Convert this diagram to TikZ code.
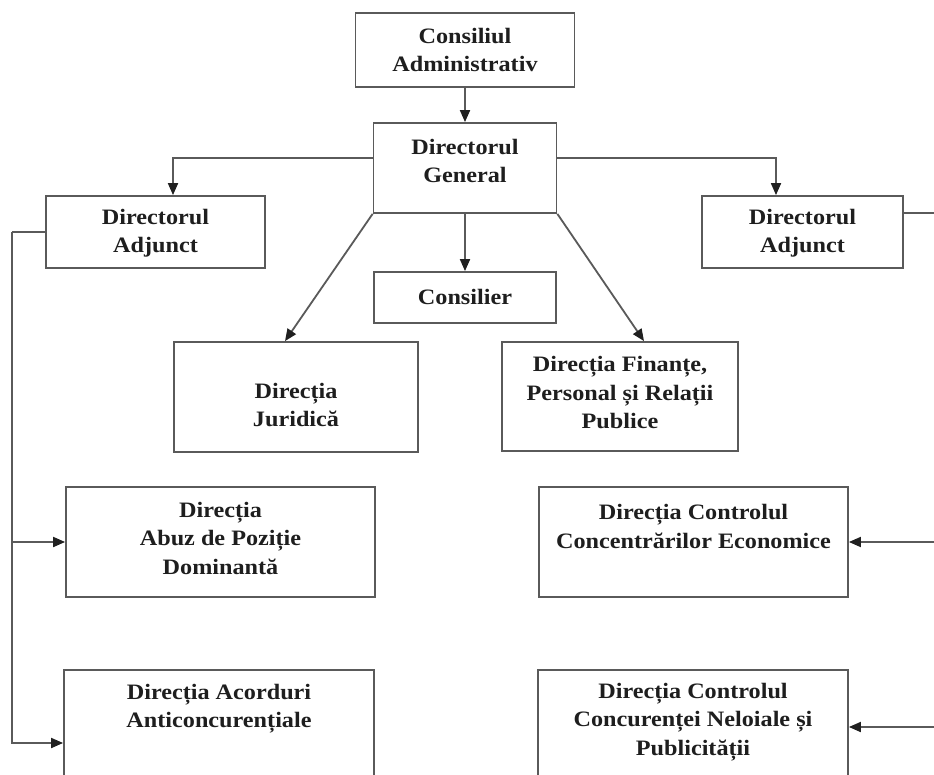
\documentclass[tikz,border=0pt]{standalone}
\usepackage{fontspec}
\setmainfont{Liberation Serif}
\usetikzlibrary{arrows.meta}
\definecolor{ln}{HTML}{5A5A5A}
\definecolor{tx}{HTML}{1E1E1E}
\definecolor{tip}{HTML}{202020}
\tikzset{
  box/.style={draw=ln, line width=1.8pt, fill=white, inner sep=0pt},
  lbl/.style={text=tx, font=\bfseries\fontsize{22}{28.5}\selectfont\addfontfeature{FakeStretch=1.1}, align=center, inner sep=0pt},
  conn/.style={draw=ln, line width=1.8pt},
  arr/.style={conn, -{Triangle[length=12pt,width=10pt,color=tip]}}
}
\begin{document}
\begin{tikzpicture}[x=1pt,y=-1pt]
\clip (0,0) rectangle (934,775);
\fill[white] (0,0) rectangle (934,775);
% boxes
\node[box, minimum width=219pt, minimum height=74pt] (ca) at (465,50) {};
\node[box, minimum width=183pt, minimum height=90pt] (dg) at (465,168) {};
\node[box, minimum width=219pt, minimum height=72pt] (da1) at (155.5,232) {};
\node[box, minimum width=201pt, minimum height=72pt] (da2) at (802.5,232) {};
\node[box, minimum width=182pt, minimum height=51pt] (cons) at (465,297.5) {};
\node[box, minimum width=244pt, minimum height=110pt] (dj) at (296,397) {};
\node[box, minimum width=236pt, minimum height=109pt] (df) at (620,396.5) {};
\node[box, minimum width=309pt, minimum height=110pt] (abuz) at (220.5,542) {};
\node[box, minimum width=309pt, minimum height=110pt] (conc) at (693.5,542) {};
\node[box, minimum width=310pt, minimum height=146pt] (acord) at (219,743) {};
\node[box, minimum width=310pt, minimum height=146pt] (neloial) at (693,743) {};
% texts
\node[lbl] (tca) at (465,50) {Consiliul\\Administrativ};
\node[lbl] (tdg) at (465,161) {Directorul\\General};
\node[lbl] (tda1) at (155.5,233) {Directorul\\Adjunct};
\node[lbl] (tda2) at (802.5,233) {Directorul\\Adjunct};
\node[lbl] (tcons) at (465,297) {Consilier};
\node[lbl] (tdj) at (296,405) {Direcția\\Juridică};
\node[lbl] (tdf) at (620,393) {Direcția Finanțe,\\Personal și Relații\\Publice};
\node[lbl] (tabuz) at (220.5,538) {Direcția\\Abuz de Poziție\\Dominantă};
\node[lbl] (tconc) at (693.5,526.5) {Direcția Controlul\\Concentrărilor Economice};
\node[lbl] (tacord) at (219,708.5) {Direcția Acorduri\\Anticoncurențiale};
\node[lbl] (tnel) at (693,722) {Direcția Controlul\\Concurenței Neloiale și\\Publicității};
% free ends
\coordinate (lspine) at (12,232);
\coordinate (lmid) at (12,542);
\coordinate (rtop) at (945,213);
\coordinate (rmid) at (945,542);
\coordinate (rbot) at (945,727);
% connectors
\draw[arr] (ca.south) -- (dg.north);
\draw[arr] ([yshift=10pt]dg.west) -| ([xshift=17.5pt]da1.north);
\draw[arr] ([yshift=10pt]dg.east) -| ([xshift=-26.5pt]da2.north);
\draw[arr] (dg.south) -- (cons.north);
\draw[arr] (dg.south west) -- ([xshift=-11pt]dj.north);
\draw[arr] (dg.south east) -- ([xshift=24pt]df.north);
\draw[conn] (da1.west) -- (lspine);
\draw[arr] (lspine) |- (abuz.west);
\draw[arr] (lmid) |- (acord.west);
\draw[conn] ([yshift=19pt]da2.east) -- (rtop);
\draw[arr] (rmid) -- (conc.east);
\draw[arr] (rbot) -- ([yshift=16pt]neloial.east);
\end{tikzpicture}
\end{document}
